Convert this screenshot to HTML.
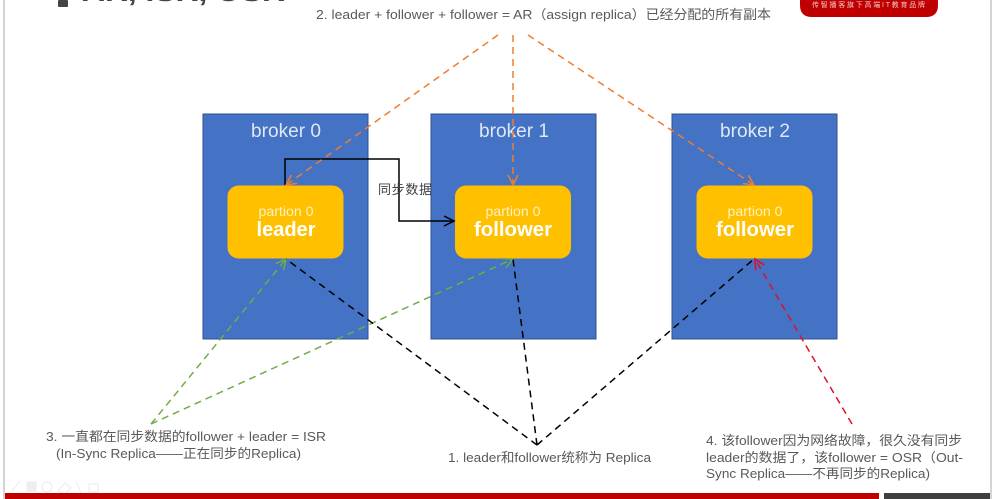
<!DOCTYPE html>
<html><head><meta charset="utf-8"><style>
html,body{margin:0;padding:0;background:#fff}
svg{display:block}
text{font-family:"Liberation Sans","Noto Sans CJK SC",sans-serif}
</style></head><body>
<svg width="1002" height="499" viewBox="0 0 1002 499" xmlns="http://www.w3.org/2000/svg">
<defs>
<marker id="o" markerUnits="userSpaceOnUse" markerWidth="14" markerHeight="14" refX="11" refY="6" orient="auto"><path d="M1 1L11 6L1 11" fill="none" stroke="#ed7d31" stroke-width="1.500"/></marker>
<marker id="g" markerUnits="userSpaceOnUse" markerWidth="14" markerHeight="14" refX="11" refY="6" orient="auto"><path d="M1 1L11 6L1 11" fill="none" stroke="#70ad47" stroke-width="1.500"/></marker>
<marker id="r" markerUnits="userSpaceOnUse" markerWidth="14" markerHeight="14" refX="11" refY="6" orient="auto"><path d="M1 1L11 6L1 11" fill="none" stroke="#e00f2a" stroke-width="1.500"/></marker>
<marker id="k" markerUnits="userSpaceOnUse" markerWidth="14" markerHeight="14" refX="11" refY="6" orient="auto"><path d="M1 1L11 6L1 11" fill="none" stroke="#000" stroke-width="1.500"/></marker>
</defs>
<rect width="1002" height="499" fill="#fff"/>
<rect x="3" y="0" width="2" height="499" fill="#d4d4d4"/>
<rect x="990" y="0" width="2" height="499" fill="#d4d4d4"/>
<rect x="58" y="0" width="10" height="7" rx="1" fill="#444"/>
<text x="82" y="1" font-size="27" font-weight="bold" fill="#444" textLength="203" lengthAdjust="spacingAndGlyphs">AR, ISR, OSR</text>
<path d="M800 0H938V5Q938 17 926 17H812Q800 17 800 5Z" fill="#c00000"/>
<text x="812" y="7" font-size="7" fill="#f3c9c9" textLength="113">传智播客旗下高端IT教育品牌</text>
<text x="316" y="19" font-size="13" fill="#595959" textLength="455" lengthAdjust="spacingAndGlyphs">2. leader + follower + follower = AR（assign replica）已经分配的所有副本</text>

<g fill="#4472c4" stroke="#2f528f" stroke-width="1">
<rect x="203" y="114" width="165" height="225"/>
<rect x="431" y="114" width="165" height="225"/>
<rect x="672" y="114" width="165" height="225"/>
</g>
<g fill="#dfe7f6" font-size="19" text-anchor="middle">
<text x="286" y="137" textLength="70" lengthAdjust="spacingAndGlyphs">broker 0</text>
<text x="514" y="137" textLength="70" lengthAdjust="spacingAndGlyphs">broker 1</text>
<text x="755" y="137" textLength="70" lengthAdjust="spacingAndGlyphs">broker 2</text>
</g>
<g fill="#ffc000">
<rect x="227.500" y="185.500" width="116" height="73" rx="11"/>
<rect x="455" y="185.500" width="116" height="73" rx="11"/>
<rect x="696.500" y="185.500" width="116" height="73" rx="11"/>
</g>
<g fill="#fff1bf" font-size="14" text-anchor="middle">
<text x="286" y="216" textLength="55" lengthAdjust="spacingAndGlyphs">partion 0</text>
<text x="513" y="216" textLength="55" lengthAdjust="spacingAndGlyphs">partion 0</text>
<text x="755" y="216" textLength="55" lengthAdjust="spacingAndGlyphs">partion 0</text>
</g>
<g fill="#fff" font-size="20" font-weight="bold" text-anchor="middle">
<text x="286" y="236" textLength="59" lengthAdjust="spacingAndGlyphs">leader</text>
<text x="513" y="236" textLength="78" lengthAdjust="spacingAndGlyphs">follower</text>
<text x="755" y="236" textLength="78" lengthAdjust="spacingAndGlyphs">follower</text>
</g>

<path d="M285 185V159H399V221H454" fill="none" stroke="#000" stroke-width="1.500" marker-end="url(#k)"/>
<text x="378" y="194" font-size="13" fill="#404040" textLength="54">同步数据</text>

<g fill="none" stroke-width="1.500" stroke-dasharray="7 5">
<g stroke="#ed7d31">
<path d="M498 35L286 185" marker-end="url(#o)"/>
<path d="M513 35V185" marker-end="url(#o)"/>
<path d="M528 35L754 185" marker-end="url(#o)"/>
</g>
<g stroke="#70ad47">
<path d="M151 424L286 259" marker-end="url(#g)"/>
<path d="M151 424L513 259" marker-end="url(#g)"/>
</g>
<g stroke="#000">
<path d="M537 445L286 259"/>
<path d="M537 445L513 259"/>
<path d="M537 445L754 259"/>
</g>
<path d="M852 424L755 259" stroke="#e00f2a" marker-end="url(#r)"/>
</g>

<g font-size="13" fill="#595959">
<text x="46" y="441" textLength="280" lengthAdjust="spacingAndGlyphs">3. 一直都在同步数据的follower + leader = ISR</text>
<text x="56" y="458" textLength="245" lengthAdjust="spacingAndGlyphs">(In-Sync Replica——正在同步的Replica)</text>
<text x="448" y="462" textLength="203" lengthAdjust="spacingAndGlyphs">1. leader和follower统称为 Replica</text>
<text x="706" y="445" textLength="256" lengthAdjust="spacingAndGlyphs">4. 该follower因为网络故障，很久没有同步</text>
<text x="706" y="462" textLength="257" lengthAdjust="spacingAndGlyphs">leader的数据了，该follower = OSR（Out-</text>
<text x="706" y="478" textLength="224" lengthAdjust="spacingAndGlyphs">Sync Replica——不再同步的Replica)</text>
</g>

<g fill="none" stroke="#eeeeee" stroke-width="1.200">
<path d="M12 491L20 481"/><rect x="27" y="482" width="9" height="9" fill="#eeeeee"/><circle cx="47" cy="487" r="5"/><path d="M58 491L65 483L71 488L65 494Z"/><path d="M76 481L81 493"/><rect x="89" y="484" width="9" height="8"/>
</g>
<rect x="5" y="493" width="874" height="6" fill="#c00000"/>
<rect x="884" y="493" width="106" height="6" fill="#3f3f3f"/>
</svg>
</body></html>
